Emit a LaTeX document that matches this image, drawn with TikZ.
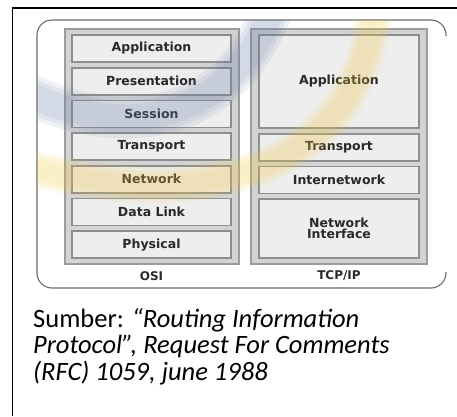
\documentclass[tikz,border=0pt]{standalone}
\usepackage{fontspec}
\setmainfont{Carlito}
\newfontfamily\layerfont{DejaVu Sans}
\usetikzlibrary{positioning}

\definecolor{panelline}{HTML}{6A6A6A}
\definecolor{stackfill}{HTML}{D3D3D3}
\definecolor{stackline}{HTML}{9C9C9C}
\definecolor{layerfill}{HTML}{EEEEEE}
\definecolor{layerline}{HTML}{8E8E8E}
\definecolor{layertext}{HTML}{2A2A2A}
\definecolor{markblue}{HTML}{6A7FA8}
\definecolor{markyellow}{HTML}{F0C840}

\tikzset{
  layerbox/.style={draw=layerline, fill=layerfill, line width=1.6pt, minimum width=159pt, inner sep=0pt, outer sep=0pt,
    font=\layerfont\bfseries\fontsize{12.5}{12}\selectfont, text=layertext, align=center},
  stackbox/.style={draw=stackline, fill=stackfill, line width=2pt},
  stacklabel/.style={font=\layerfont\bfseries\fontsize{12}{12}\selectfont, text=layertext},
  captionline/.style={anchor=base west, inner sep=0pt, font=\fontsize{26.5}{26}\selectfont},
  logoband/.style={line cap=round, opacity=0.11}
}

\begin{document}
\begin{tikzpicture}[x=1pt, y=-1pt, node distance=5.7pt]
\useasboundingbox (0,0) rectangle (457,416);
% page frame
\draw[line width=1.5pt] (12.5,416) -- (12.5,8) -- (457,8);
% rounded panel, open on the right
\draw[panelline, line width=1.1pt, rounded corners=15pt] (446,36) -- (446,20) -- (37,20) -- (37,288) -- (446,288) -- (446,272);
% the two stacks
\draw[stackbox] (65,29) rectangle (239,264);
\draw[stackbox] (251,29) rectangle (427,264);
% OSI layers
\node[layerbox, minimum height=27pt] (osiApp) at (151.5,48.5) {Application};
\node[layerbox, minimum height=27pt, below=of osiApp] (osiPres) {Presentation};
\node[layerbox, minimum height=27pt, below=of osiPres] (osiSess) {Session};
\node[layerbox, minimum height=27pt, below=of osiSess] (osiTrans) {Transport};
\node[layerbox, minimum height=27pt, below=of osiTrans] (osiNet) {Network};
\node[layerbox, minimum height=27pt, below=of osiNet] (osiLink) {Data Link};
\node[layerbox, minimum height=27pt, below=of osiLink] (osiPhys) {Physical};
% TCP/IP layers
\node[layerbox, minimum width=160pt, minimum height=93pt] (tcpApp) at (339,81.5) {Application};
\node[layerbox, minimum width=160pt, minimum height=27pt, below=of tcpApp] (tcpTrans) {Transport};
\node[layerbox, minimum width=160pt, minimum height=27pt, below=of tcpTrans] (tcpInet) {Internetwork};
\node[layerbox, minimum width=160pt, minimum height=59pt, below=of tcpInet] (tcpIface) {Network\\[-1pt]Interface};
% stack names
\node[stacklabel] (osiName) at (151.5,276) {OSI};
\node[stacklabel] (tcpName) at (339,276) {TCP/IP};
% faded logo behind the stacks
\begin{scope}
  \clip[rounded corners=15pt] (37,20) rectangle (446,288);
  \foreach \w in {36,28,20}{
    \draw[logoband, markyellow, line width=\w pt] (20,165) .. controls (200,215) and (360,175) .. (375,5);
    \draw[logoband, markblue, line width=\w pt+6pt] (30,95) .. controls (130,140) and (230,120) .. (272,10);
  }
\end{scope}
% source
\node[captionline] (capA) at (33,327) {Sumber: \textit{“Routing Information}};
\node[captionline] (capB) at (33,353.5) {\textit{Protocol”, Request For Comments}};
\node[captionline] (capC) at (33,380) {\textit{(RFC) 1059, june 1988}};
\end{tikzpicture}
\end{document}
